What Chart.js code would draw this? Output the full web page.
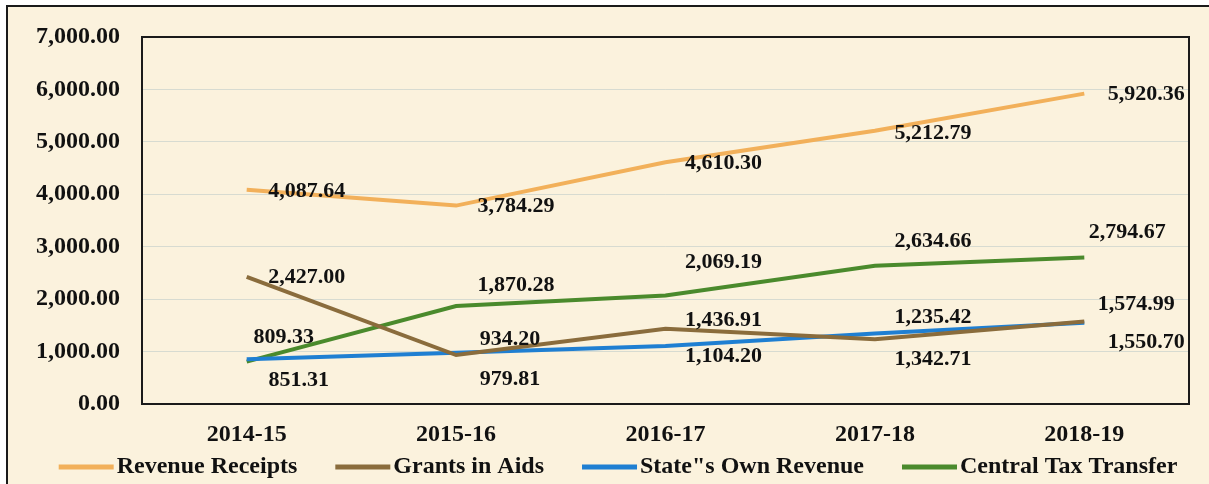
<!DOCTYPE html>
<html>
<head>
<meta charset="utf-8">
<script src="https://cdn.jsdelivr.net/npm/chart.js@4.4.0/dist/chart.umd.min.js"></script>
<style>
  html, body { margin: 0; padding: 0; background: #ffffff; }
  #wrap { width: 1209px; height: 484px; position: relative; }
</style>
</head>
<body>
<div id="wrap"><canvas id="chart" width="1209" height="484"></canvas></div>
<script>
// Data
const years = ['2014-15', '2015-16', '2016-17', '2017-18', '2018-19'];
const revenueReceipts = [4087.64, 3784.29, 4610.30, 5212.79, 5920.36];
const grantsInAids = [2427.00, 934.20, 1436.91, 1235.42, 1574.99];
const statesOwnRevenue = [851.31, 979.81, 1104.20, 1342.71, 1550.70];
const centralTaxTransfer = [809.33, 1870.28, 2069.19, 2634.66, 2794.67];
const yTicks = [0, 1000, 2000, 3000, 4000, 5000, 6000, 7000];

// where each value label sits relative to its point (px)
const labelOffsets = [
    [[60, 2], [60, 1], [58, 1], [58, 3], [62, 1]],
    [[60, 1], [54, -16], [58, -8], [58, -22], [52, -17]],
    [[52, 21], [54, 27], [58, 10], [58, 26], [62, 20]],
    [[37, -24], [60, -21], [58, -33], [58, -25], [43, -25]]
];

const FONT = "'Liberation Serif', 'Times New Roman', serif";
const INK = '#111111';
const fmt = v => v.toLocaleString('en-US', { minimumFractionDigits: 2, maximumFractionDigits: 2 });

function series(label, data, color) {
    return {
        label: label,
        data: data,
        borderColor: color,
        backgroundColor: color,
        borderWidth: 4,
        pointRadius: 0,
        tension: 0,
        fill: false
    };
}

// background, outer frame, plot border and legend
const framePlugin = {
    id: 'frame',
    beforeDraw(chart) {
        const ctx = chart.ctx;
        ctx.save();
        ctx.fillStyle = '#fbf2dd';
        ctx.fillRect(7, 5, chart.width - 7, chart.height - 5);
        ctx.strokeStyle = '#1a1a1a';
        ctx.lineWidth = 2;
        ctx.beginPath();
        ctx.moveTo(7, chart.height);
        ctx.lineTo(7, 6);
        ctx.lineTo(chart.width, 6);
        ctx.stroke();
        ctx.restore();
    },
    afterDraw(chart) {
        const a = chart.chartArea;
        const ctx = chart.ctx;
        ctx.save();
        ctx.strokeStyle = '#1a1a1a';
        ctx.lineWidth = 2;
        ctx.strokeRect(a.left, a.top, a.right - a.left, a.bottom - a.top);

        // legend row
        ctx.font = 'bold 24px ' + FONT;
        ctx.textBaseline = 'middle';
        ctx.textAlign = 'left';
        const lineLen = 55, gap = 3, spacing = 38, y = 467;
        const items = chart.data.datasets.map(ds => ({
            text: ds.label, color: ds.borderColor, w: ctx.measureText(ds.label).width
        }));
        const total = items.reduce((s, it) => s + lineLen + gap + it.w, 0) + spacing * (items.length - 1);
        let x = 618 - total / 2;
        items.forEach(it => {
            ctx.strokeStyle = it.color;
            ctx.lineWidth = 5;
            ctx.beginPath();
            ctx.moveTo(x, y);
            ctx.lineTo(x + lineLen, y);
            ctx.stroke();
            ctx.fillStyle = INK;
            ctx.fillText(it.text, x + lineLen + gap, y);
            x += lineLen + gap + it.w + spacing;
        });
        ctx.restore();
    }
};

// value labels next to each point
const valueLabels = {
    id: 'valueLabels',
    afterDatasetsDraw(chart) {
        const ctx = chart.ctx;
        ctx.save();
        ctx.font = 'bold 22px ' + FONT;
        ctx.fillStyle = INK;
        ctx.textAlign = 'center';
        ctx.textBaseline = 'middle';
        chart.data.datasets.forEach((ds, i) => {
            const meta = chart.getDatasetMeta(i);
            meta.data.forEach((pt, j) => {
                const off = labelOffsets[i][j];
                ctx.fillText(fmt(ds.data[j]), pt.x + off[0], pt.y + off[1]);
            });
        });
        ctx.restore();
    }
};

new Chart(document.getElementById('chart'), {
    type: 'line',
    data: {
        labels: years,
        datasets: [
            series('Revenue Receipts', revenueReceipts, '#f2b05a'),
            series('Grants in Aids', grantsInAids, '#8a6c3c'),
            series('State"s Own Revenue', statesOwnRevenue, '#1f7fd2'),
            series('Central Tax Transfer', centralTaxTransfer, '#4a8a2c')
        ]
    },
    options: {
        responsive: false,
        animation: false,
        layout: { padding: { left: 7, right: 20, top: 37, bottom: 28 } },
        plugins: {
            tooltip: { enabled: false },
            legend: { display: false }
        },
        scales: {
            x: {
                offset: true,
                grid: { display: false, drawTicks: false },
                border: { display: false },
                afterFit(scale) { scale.height = 52; },
                ticks: {
                    font: { family: FONT, size: 24, weight: 'bold' },
                    color: INK,
                    padding: 16
                }
            },
            y: {
                min: 0,
                max: 7000,
                afterBuildTicks(scale) {
                    scale.ticks = yTicks.map(v => ({ value: v }));
                },
                afterFit(scale) { scale.width = 135; },
                grid: { color: 'rgba(180,196,198,0.5)', drawTicks: false, lineWidth: 1 },
                border: { display: false },
                ticks: {
                    font: { family: FONT, size: 24, weight: 'bold' },
                    color: INK,
                    padding: 22,
                    callback: v => fmt(v)
                }
            }
        }
    },
    plugins: [framePlugin, valueLabels]
});
</script>
</body>
</html>
